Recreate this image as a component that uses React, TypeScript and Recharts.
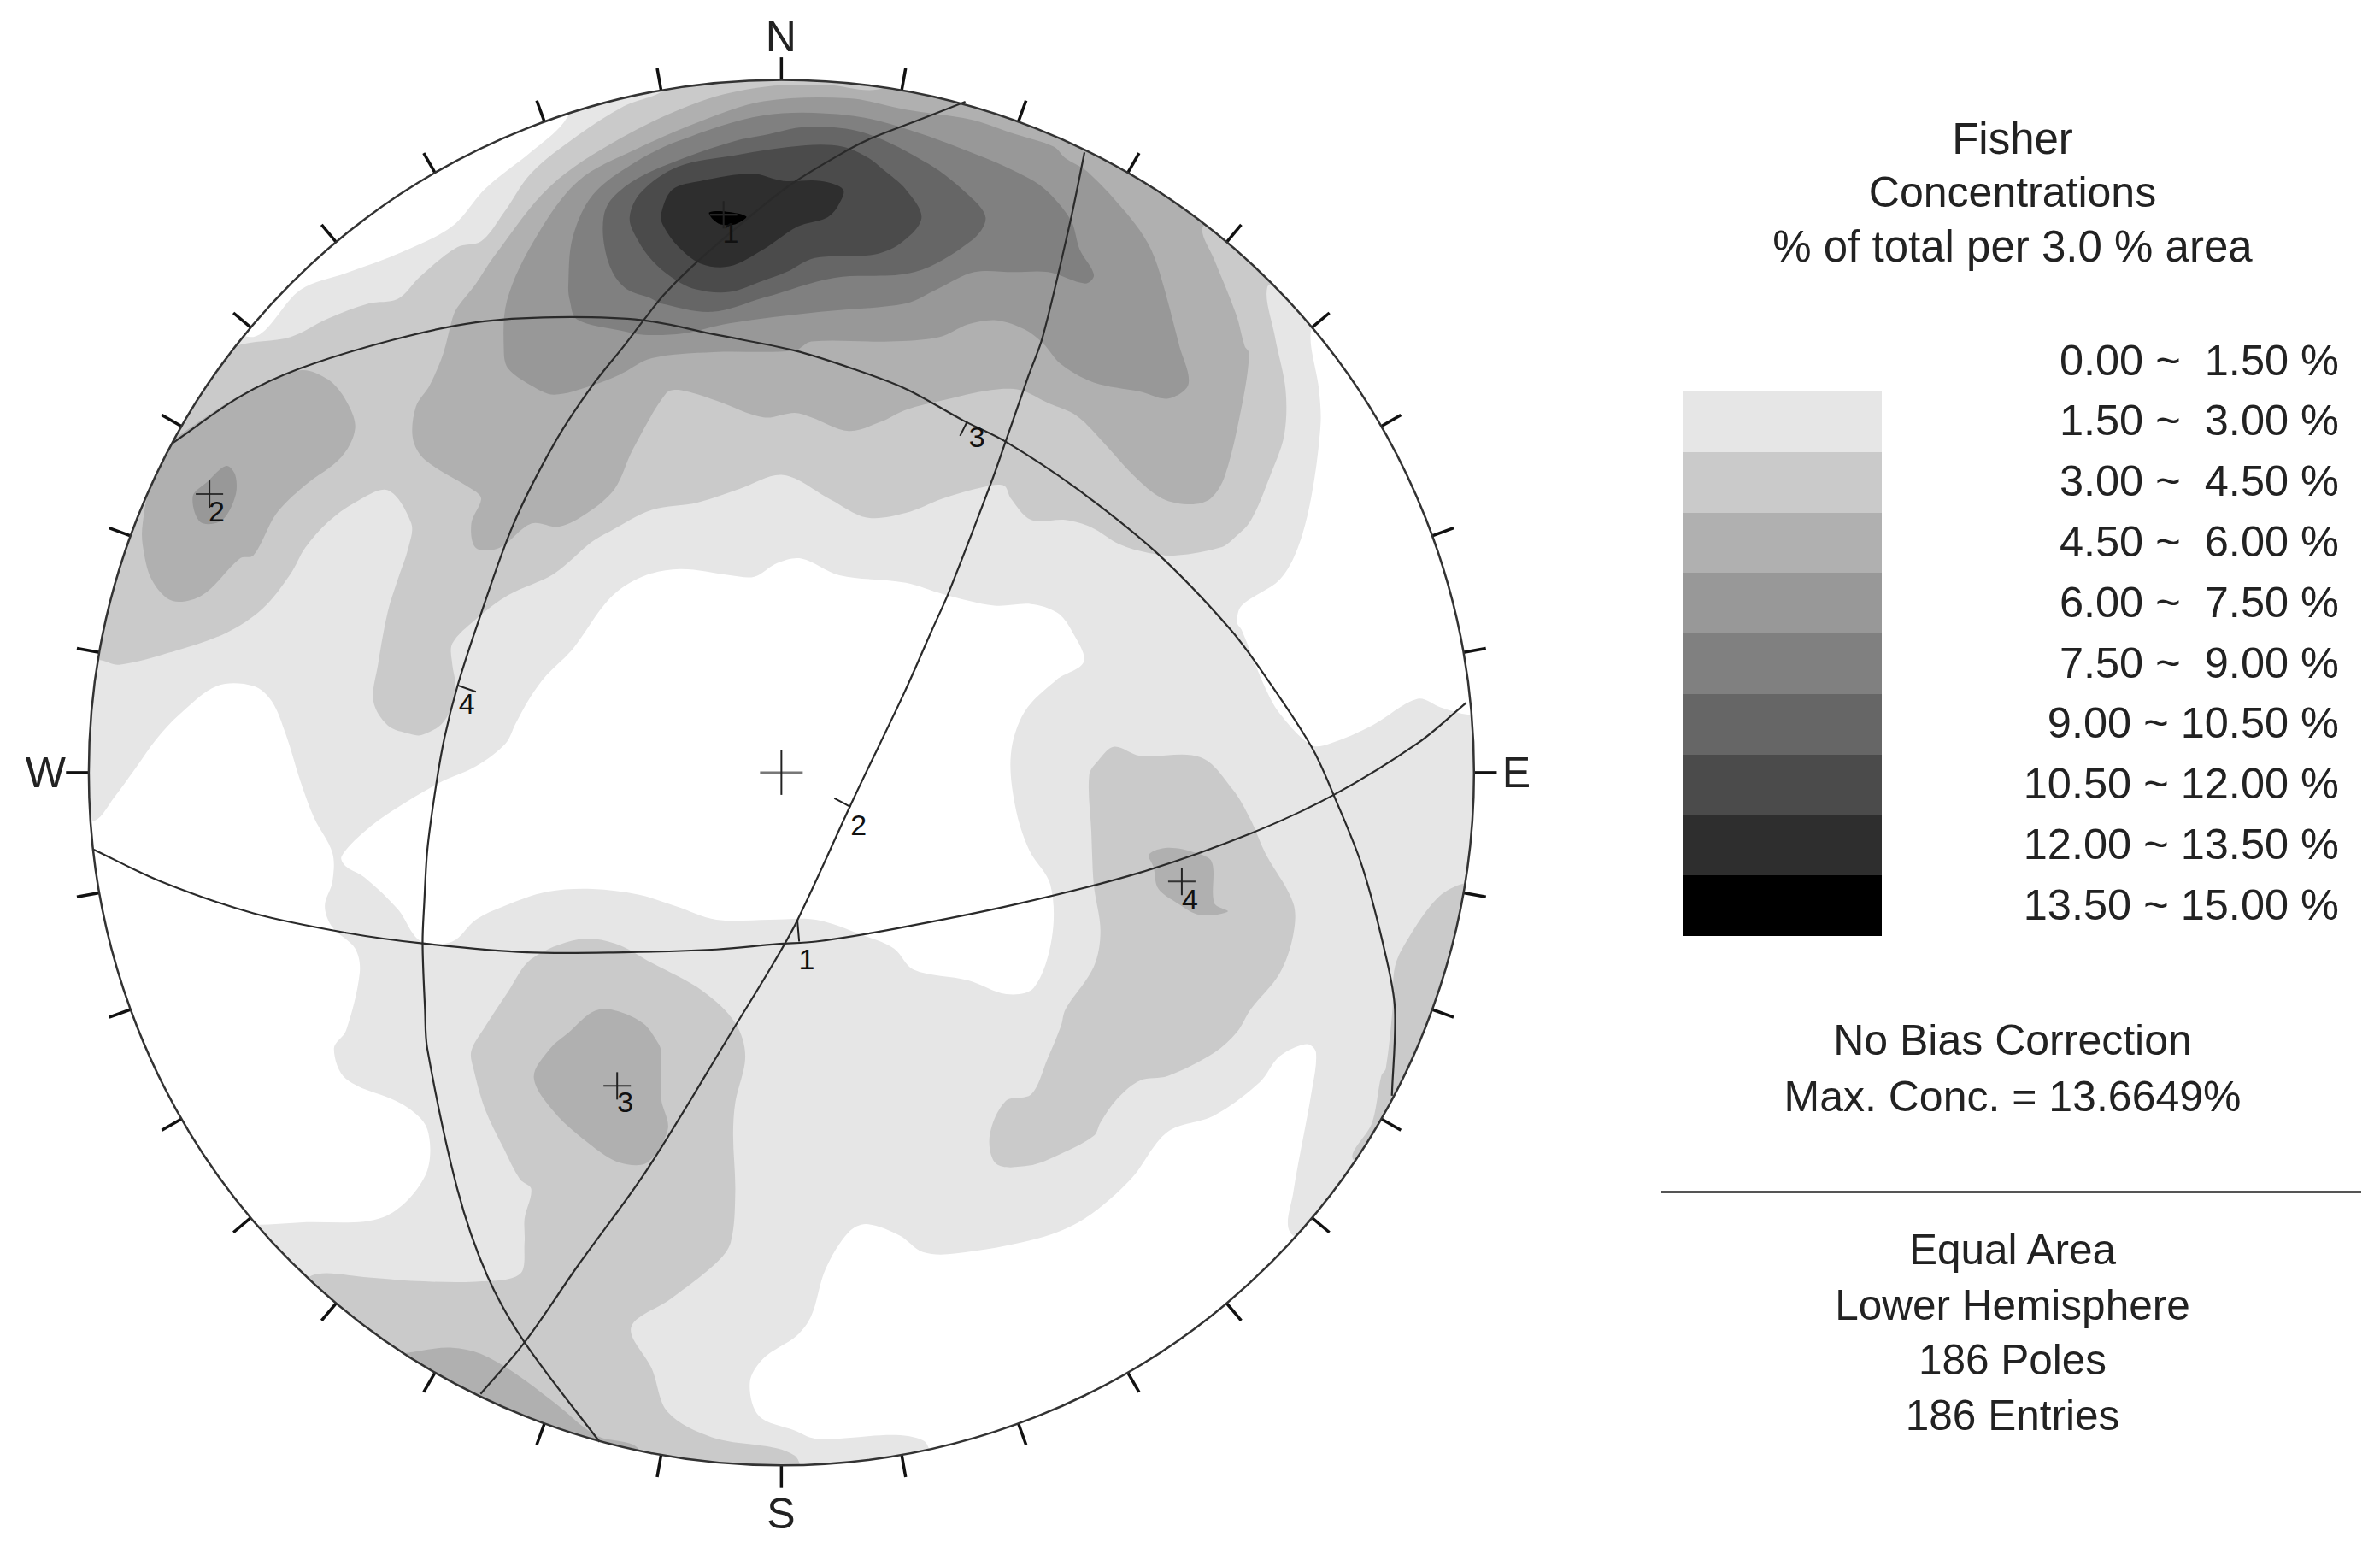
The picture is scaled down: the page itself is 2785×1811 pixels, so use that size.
import React from "react";
import {
  ScatterChart,
  Scatter,
  XAxis,
  YAxis,
  ReferenceLine,
  ReferenceDot,
} from "recharts";

type Pt = [number, number];

const WIDTH = 2785;
const HEIGHT = 1811;
const FONT = "'Liberation Sans', Arial, sans-serif";

// net coordinates: the plot is read in units of the 1568x1020 picture
const DOMAIN_X = 1568;
const DOMAIN_Y = 1020;
const NET_X = 514.8;
const NET_Y = 509.1;
const NET_R = 456.3;

const BAND_COLORS = ["#ffffff", "#e6e6e6", "#cacaca", "#b0b0b0", "#989898", "#808080", "#666666", "#4b4b4b", "#2e2e2e", "#000000"];

const legendLabels = [
  "0.00 ~  1.50 %",
  "1.50 ~  3.00 %",
  "3.00 ~  4.50 %",
  "4.50 ~  6.00 %",
  "6.00 ~  7.50 %",
  "7.50 ~  9.00 %",
  "9.00 ~ 10.50 %",
  "10.50 ~ 12.00 %",
  "12.00 ~ 13.50 %",
  "13.50 ~ 15.00 %",
];

const headerLines = ["Fisher", "Concentrations", "% of total per 3.0 % area"];
const biasLines = ["No Bias Correction", "Max. Conc. = 13.6649%"];
const infoLines = ["Equal Area", "Lower Hemisphere", "186 Poles", "186 Entries"];

const tickAzimuths = [0, 10, 20, 30, 40, 50, 60, 70, 80, 90, 100, 110, 120, 130, 140, 150, 160, 170, 180, 190, 200, 210, 220, 230, 240, 250, 260, 270, 280, 290, 300, 310, 320, 330, 340, 350];

const compass = [
  { name: "N", x: 514.5, y: 24 },
  { name: "E", x: 999, y: 509 },
  { name: "S", x: 514.5, y: 997 },
  { name: "W", x: 30, y: 509 },
];

// density bands, lightest first; each later one is painted on top
const disc: Pt[] = [[40, 40], [990, 40], [990, 985], [40, 985]];

const whiteNorthWest: Pt[] = [[371.5, 80.5], [350, 100], [320, 124], [298, 149], [265, 166], [228, 180], [198, 191], [167, 222], [140, 200], [240, 100], [380, 60]];
const whiteEast: Pt[] = [[864, 217], [869, 257], [870, 280], [864, 327], [855, 361], [843, 382], [818, 399], [815, 410], [818, 415], [833, 452], [843, 470], [864, 491], [876, 490], [904, 478], [934, 460.5], [949, 466], [968, 471], [1000, 472], [1000, 400], [960, 290], [880, 217]];
const whiteCentre: Pt[] = [[225, 564.4], [240, 548], [259, 534], [289, 516], [313.5, 505], [333, 490], [339.7, 476.8], [349, 460], [360, 445], [377, 428], [402, 394], [423, 380], [448, 375], [481, 379], [497, 380], [512, 371], [528, 368], [553, 379], [596.8, 384], [621.2, 391.4], [655, 399], [679.4, 398], [696.3, 403.6], [705.7, 414.9], [714, 436], [696, 448], [675, 469], [666, 497], [669, 532], [678, 560], [692, 583], [693, 618], [681, 651], [663, 655], [638, 646], [602, 639], [589, 625], [568, 616], [537.5, 606], [507, 606], [472, 606], [445, 597], [420.4, 589.4], [390.4, 585.7], [360.4, 587.6], [332.2, 597], [313.5, 606], [298, 620.4], [277, 620], [262, 599], [240, 578], [228, 571]];
const whiteWest: Pt[] = [[62, 541], [75.5, 525], [88, 508], [103, 487], [118, 471], [143, 452], [167, 452], [179, 462], [188, 483], [198, 515], [207, 539], [219, 562], [219, 581], [214, 597], [219, 611], [234, 625], [237, 641], [228, 679], [220, 691], [228, 711], [265, 727.6], [281.5, 744], [280, 775], [252.5, 802], [197.6, 805.5], [170, 807], [150, 807], [40, 620], [40, 541]];
const whiteSouthEast: Pt[] = [[850, 812], [852, 786], [864, 720], [867, 693.5], [861, 688], [843, 696], [830, 713], [800, 735], [769, 746], [745, 777], [714.5, 803], [684, 816], [629, 826], [608, 825], [592.5, 814], [571, 806.6], [559, 812], [544, 836], [534.5, 867], [525, 880], [503, 895], [494, 911], [500, 933], [523.5, 942.6], [537.5, 948], [608, 949], [620, 985], [760, 930], [880, 830]];

const band2North: Pt[] = [[50, 435], [60, 330], [110, 250], [155, 228], [191.5, 222], [216, 210], [243, 200], [262, 197], [277, 182], [301, 163], [317, 159], [332, 140], [350, 114], [381, 89], [411, 70], [439, 58], [439, 40], [600, 40], [720, 90], [835, 165], [850, 185], [835, 189], [840, 222], [847, 257], [846, 287], [837, 313], [824, 343], [812.6, 355], [805, 360.4], [775, 366], [756.3, 364.2], [737.6, 358.6], [718.8, 347.3], [702, 342.6], [679.4, 342.6], [666, 328.5], [661.5, 320], [647.5, 321], [621, 328.5], [596.8, 338], [571, 341], [547, 329], [516, 313], [487.5, 322], [460, 331], [429.5, 336], [402, 350], [390, 357], [365, 378], [335, 392], [313.5, 408], [298, 424], [298, 438], [300, 450], [298.4, 464], [291, 477], [278, 484.3], [270, 483.5], [255.5, 478], [246, 462], [249, 438], [255.5, 403], [262, 382], [269, 361], [271, 345], [255.5, 323], [234, 331], [216, 344], [201, 361], [191.5, 378], [173, 401], [149, 417], [115, 429], [78.5, 438], [66, 435]];
const band2South: Pt[] = [[350, 632], [381, 619], [405, 621.6], [429.5, 634.5], [463, 653], [484.4, 674], [491, 696], [484.4, 726.5], [483, 748], [484.4, 785.7], [481.4, 818.6], [472, 832], [441.7, 856], [415.8, 874.6], [429.5, 902], [440, 930.5], [469, 947], [523.5, 959], [523, 985], [400, 985], [280, 940], [200, 860], [205, 840.6], [243, 841.7], [271, 844], [313.5, 844.5], [342.5, 839.5], [345.6, 818.6], [345.6, 803], [350, 783.5], [342.5, 777], [332, 757], [319.6, 731], [312, 704.5], [310.5, 692.5], [319.6, 676.5], [335, 653]];
const band2East: Pt[] = [[734, 492], [751, 498], [791, 499], [812, 520], [824.4, 541], [833.5, 562], [852, 595], [852, 616], [843, 641.5], [824, 665], [815, 680], [800, 693.6], [769.4, 709], [751, 712], [736, 724], [725, 739.6], [720.6, 748.4], [696, 761.6], [678, 768], [656.5, 767], [652, 748.4], [662.6, 725.4], [679.4, 721], [690, 698], [699, 676], [702, 665], [720.6, 637], [725, 613.4], [720.6, 583], [719, 548], [717.6, 510.7], [723.7, 501]];
const band2Rim: Pt[] = [[961.7, 583], [946.4, 592.4], [928, 618], [919, 637], [917.4, 665], [913, 704], [910, 709], [904, 739.6], [891.5, 764], [930, 780], [990, 650], [985, 580]];

const band3North: Pt[] = [[301, 203], [313.5, 187], [324.7, 170], [362.2, 123], [409.1, 91], [461.7, 66.7], [503, 57.3], [545, 56], [578, 59], [640, 40], [720, 90], [800, 140], [792, 151], [799.5, 170], [814.5, 207.4], [820, 228], [823, 233], [818.3, 266.6], [807, 313.5], [797.6, 328.5], [784.5, 332.3], [765.7, 328.5], [747, 313.5], [728.2, 292.9], [709.4, 274], [690.6, 265.6], [672, 257], [653, 257], [621.2, 263.8], [596.8, 270], [580, 278], [559, 284], [534.5, 275], [523.5, 272], [503, 275], [472, 264], [448, 257], [439, 259], [417, 296], [405, 322], [387, 338], [368.5, 347], [350, 345], [329, 361], [313.5, 361], [310.5, 345], [317, 329], [313.5, 324], [280, 303], [272, 289], [274, 268], [283, 254], [292, 233], [298, 210]];
const band3West: Pt[] = [[118, 287], [161, 259], [197.6, 244], [216, 250], [228, 264], [234, 282], [225, 301], [200.6, 320], [182, 338.5], [167, 366], [158, 368], [133.5, 392], [113.7, 396], [100, 382], [94, 359], [94, 345], [100, 315], [112, 294]];
const band3SouthWest: Pt[] = [[277, 890], [298, 888], [316.6, 892], [338, 904], [365, 924], [393, 946], [420, 954], [420, 975], [300, 920], [260, 895]];
const band3Pole3: Pt[] = [[390, 667], [402, 665], [423.4, 674], [434, 688], [435.6, 693.6], [435.6, 724], [440, 744], [426.5, 766], [408, 766], [390, 755], [365.4, 733], [351.7, 710], [362.4, 691], [374.6, 680.4]];
const band3Pole4: Pt[] = [[757, 563], [769.4, 558.6], [788, 562], [798.4, 568], [800, 595], [809, 600.6], [790.8, 603], [775.5, 595], [763, 585.4], [760, 571.4]];

const band4North: Pt[] = [[332, 233], [335, 243], [350, 254], [365, 260], [390, 254], [408, 247], [429.5, 236], [470, 232], [523.5, 231], [534.5, 225], [586, 225], [619, 222], [638, 213.6], [656.5, 211], [675, 217], [687, 226], [699, 240], [720.6, 252], [751, 258], [769.5, 262.6], [783, 253], [777, 228], [763.9, 179.3], [756.4, 160.5], [743.2, 141.7], [717, 113.6], [701.9, 104.2], [694.4, 96.7], [668.1, 88.2], [640, 78.9], [596.8, 72.3], [559.3, 64.8], [503, 66.7], [461.7, 79.8], [418.5, 98.6], [381, 119.2], [352.8, 156.8], [334, 198]];
const band4Pole2: Pt[] = [[149, 307], [155, 313], [155, 327], [146, 343], [132, 344], [127, 327], [136.5, 317.5]];

const band5North: Pt[] = [[374.4, 188.7], [375.4, 198], [380, 210.3], [409.1, 217.8], [424.2, 220.6], [450.4, 219.6], [480.5, 213], [540.5, 205.5], [596.8, 199.9], [617.5, 190.5], [641.9, 179.3], [668.1, 179.3], [690.7, 179.3], [715, 186.8], [720.7, 181.2], [711.3, 164.3], [705.7, 145.5], [690.7, 126.7], [677.5, 117.3], [649.4, 104.2], [598.7, 85.4], [559.3, 76], [503, 76], [446.7, 93], [416.7, 108], [390.4, 128.6], [377.2, 156.8]];
const band6North: Pt[] = [[397.9, 160.5], [397.9, 141.7], [403.5, 130.5], [420.4, 117.3], [450.4, 104.2], [484.2, 92.9], [503, 89.2], [531.1, 83.6], [568.7, 87.3], [611.8, 108], [638.1, 128.6], [649.4, 143.6], [640, 158.6], [602.5, 179.3], [549.9, 183], [503, 196.2], [469.2, 205.5], [435.4, 199.9], [427.9, 196.2], [412.9, 190.5], [403.5, 179.3]];
const band7North: Pt[] = [[414.8, 143.6], [422.3, 126.7], [446.7, 109.8], [484.2, 102.3], [531, 95.8], [555.5, 96.7], [572.4, 104.2], [581.8, 111.7], [596.8, 124.9], [607.1, 143.6], [593, 160.5], [574.3, 168], [536.8, 169.9], [518, 179.3], [503, 184.9], [480.5, 192.4], [458, 190.5], [443, 183], [429.8, 171.8], [420.4, 158.6]];
const band8North: Pt[] = [[435.4, 141.7], [443, 124.9], [461.7, 119.2], [495.5, 114.5], [516, 119.2], [540.5, 119.2], [555.5, 124.9], [551.8, 136.1], [544.3, 143.6], [525.5, 149.3], [503, 164.3], [480.5, 175.5], [461.7, 173.7], [446.7, 162.4], [437.3, 149.3]];
const band9Peak: Pt[] = [[467.3, 140], [478.6, 139.5], [491.7, 142.7], [484.2, 147.8], [474.8, 147.8], [469.2, 144]];

const bands: { level: number; points: Pt[] }[] = [
  { level: 1, points: disc },
  { level: 0, points: whiteNorthWest },
  { level: 0, points: whiteEast },
  { level: 0, points: whiteCentre },
  { level: 0, points: whiteWest },
  { level: 0, points: whiteSouthEast },
  { level: 2, points: band2North },
  { level: 2, points: band2South },
  { level: 2, points: band2East },
  { level: 2, points: band2Rim },
  { level: 3, points: band3North },
  { level: 3, points: band3West },
  { level: 3, points: band3SouthWest },
  { level: 3, points: band3Pole3 },
  { level: 3, points: band3Pole4 },
  { level: 4, points: band4North },
  { level: 4, points: band4Pole2 },
  { level: 5, points: band5North },
  { level: 6, points: band6North },
  { level: 7, points: band7North },
  { level: 8, points: band8North },
  { level: 9, points: band9Peak },
];

// great circles of the four mean planes
const planeOne: Pt[] = [[636, 67], [608, 78], [574.3, 91], [559, 98.6], [521.8, 121], [491.7, 144.6], [456, 175.5], [437.3, 194.3], [424, 211], [411, 228], [390, 254.4], [365.4, 291.8], [338, 346], [315, 410], [301.3, 452.4], [292.8, 486.2], [287.2, 518], [281.6, 559.4], [279.5, 595], [278.4, 621.6], [280, 665], [281.5, 691], [301.3, 783.5], [321, 840.6], [345.6, 884.5], [395, 950]];
const planeTwo: Pt[] = [[714.5, 100.4], [705.4, 144.7], [687, 221.8], [677.5, 247.8], [662.5, 291], [653, 318], [625, 390.5], [613.7, 415.8], [595.5, 457], [562, 527], [525.3, 606.4], [507, 639], [484.4, 676], [426.5, 770.4], [380.7, 834], [345.6, 884.5], [316.6, 918.5]];
const planeThree: Pt[] = [[113.7, 292], [158, 261.4], [197.6, 242.8], [258.6, 224], [313.5, 212.4], [365.4, 209], [423.4, 211], [472, 220.6], [523.5, 231], [562, 243], [596.8, 256.2], [634.3, 276.9], [662.5, 291], [709.4, 322], [762, 364.2], [810.8, 414.9], [835, 447.7], [864, 492], [879, 524.7], [897.6, 571.4], [913, 629.8], [919, 665], [917, 722]];
const planeFour: Pt[] = [[61.8, 559.8], [106, 580.8], [167, 601.8], [228, 614.6], [278.4, 621.6], [347, 627.5], [411, 627.5], [472, 625.6], [512, 622], [537.5, 620.4], [589.4, 612], [668.7, 596], [751, 575], [824.4, 549], [879, 523.6], [934, 489.7], [966, 463]];
const planes = [planeOne, planeTwo, planeThree, planeFour];

const poles = [
  { name: "1", x: 476.7, y: 141.5, labelX: 481.4, labelY: 153 },
  { name: "2", x: 138, y: 325.6, labelX: 142.7, labelY: 337 },
  { name: "3", x: 406.6, y: 715.5, labelX: 412, labelY: 726 },
  { name: "4", x: 778.6, y: 580.8, labelX: 784, labelY: 592.4 },
];

const planeMarks = [
  { name: "1", x: 531.4, y: 632, from: [525.3, 606.4] as Pt, to: [526.5, 620.4] as Pt },
  { name: "2", x: 565.6, y: 543.4, from: [549.7, 526] as Pt, to: [560.4, 531.7] as Pt },
  { name: "3", x: 643.7, y: 288, from: [632.5, 287.2] as Pt, to: [637.2, 277.8] as Pt },
  { name: "4", x: 307.5, y: 463.7, from: [301.3, 451.5] as Pt, to: [313.5, 455.8] as Pt },
];

const toData = (points: Pt[]) => points.map(([x, y]) => ({ x, y }));

// Catmull-Rom through the traced vertices, tangents scaled by chord length
function smoothPath(points: { x: number; y: number }[], closed: boolean) {
  const n = points.length;
  const at = (i: number) => (closed ? points[(i + n) % n] : points[Math.max(0, Math.min(n - 1, i))]);
  const dist = (a: { x: number; y: number }, b: { x: number; y: number }) => Math.hypot(a.x - b.x, a.y - b.y) || 1;
  let d = `M${points[0].x},${points[0].y}`;
  const last = closed ? n : n - 1;
  for (let i = 0; i < last; i++) {
    const p0 = at(i - 1);
    const p1 = at(i);
    const p2 = at(i + 1);
    const p3 = at(i + 2);
    const len = dist(p1, p2);
    const k1 = len / (3 * (dist(p0, p1) + len));
    const k2 = len / (3 * (len + dist(p2, p3)));
    const c1x = p1.x + (p2.x - p0.x) * k1;
    const c1y = p1.y + (p2.y - p0.y) * k1;
    const c2x = p2.x - (p3.x - p1.x) * k2;
    const c2y = p2.y - (p3.y - p1.y) * k2;
    d += `C${c1x},${c1y} ${c2x},${c2y} ${p2.x},${p2.y}`;
  }
  return closed ? d + "Z" : d;
}

const noMarker = () => <g />;

function crossShape(halfW: number, halfH: number, hColor: string, hWidth: number, vColor: string) {
  return (props: any) => (
    <g>
      <line x1={props.cx - halfW} x2={props.cx + halfW} y1={props.cy} y2={props.cy} stroke={hColor} strokeWidth={hWidth} />
      <line x1={props.cx} x2={props.cx} y1={props.cy - halfH} y2={props.cy + halfH} stroke={vColor} strokeWidth={2} />
    </g>
  );
}

function PanelText({ text, y, size = 50 }: { text: string; y: number; size?: number }) {
  return (
    <div style={{ position: "absolute", left: 2355, top: y, transform: "translate(-50%, -50%)", whiteSpace: "pre", fontSize: size, lineHeight: 1, color: "#222" }}>
      {text}
    </div>
  );
}

export default function App() {
  const sx = WIDTH / DOMAIN_X;
  const sy = HEIGHT / DOMAIN_Y;
  const xAt = (a: number, r: number) => NET_X + r * Math.sin((a * Math.PI) / 180);
  const yAt = (a: number, r: number) => NET_Y - r * Math.cos((a * Math.PI) / 180);

  return (
    <div style={{ position: "absolute", left: 0, top: 0, width: WIDTH, height: HEIGHT, background: "#fff", fontFamily: FONT }}>
      <ScatterChart width={WIDTH} height={HEIGHT} margin={{ top: 0, right: 0, bottom: 0, left: 0 }}>
        <defs>
          <clipPath id="net-clip">
            <circle cx={NET_X * sx} cy={NET_Y * sy} r={NET_R * sx} />
          </clipPath>
        </defs>
        <XAxis type="number" dataKey="x" domain={[0, DOMAIN_X]} hide allowDataOverflow />
        <YAxis type="number" dataKey="y" domain={[0, DOMAIN_Y]} reversed hide allowDataOverflow />

        {bands.map((band, i) => (
          <Scatter
            key={`band-${i}`}
            data={toData(band.points)}
            isAnimationActive={false}
            shape={noMarker}
            line={(p: any) => (
              <path d={smoothPath(p.points, true)} fill={BAND_COLORS[band.level]} stroke="none" clipPath="url(#net-clip)" />
            )}
          />
        ))}

        {planes.map((plane, i) => (
          <Scatter
            key={`plane-${i}`}
            data={toData(plane)}
            isAnimationActive={false}
            shape={noMarker}
            line={(p: any) => <path d={smoothPath(p.points, false)} fill="none" stroke="#2a2a2a" strokeWidth={2.2} />}
          />
        ))}

        {planeMarks.map((m) => (
          <Scatter
            key={`mark-${m.name}`}
            data={toData([m.from, m.to])}
            isAnimationActive={false}
            shape={noMarker}
            line={(p: any) => <path d={smoothPath(p.points, false)} fill="none" stroke="#222" strokeWidth={2} />}
          />
        ))}

        <ReferenceDot x={NET_X} y={NET_Y} r={NET_R * sx} fill="none" stroke="#333" strokeWidth={2.5} ifOverflow="visible" />

        {tickAzimuths.map((a) => (
          <ReferenceLine
            key={`tick-${a}`}
            segment={[
              { x: xAt(a, NET_R), y: yAt(a, NET_R) },
              { x: xAt(a, NET_R + 15), y: yAt(a, NET_R + 15) },
            ]}
            stroke="#111"
            strokeWidth={3.5}
          />
        ))}

        <Scatter data={[{ x: NET_X, y: NET_Y }]} isAnimationActive={false} shape={crossShape(25, 26, "#777", 3, "#222")} />
        <Scatter data={poles} isAnimationActive={false} shape={crossShape(16, 16, "#333", 2, "#222")} />

        {poles.map((m) => (
          <ReferenceDot key={`pole-${m.name}`} x={m.labelX} y={m.labelY} r={0} fill="none" stroke="none" label={{ value: m.name, position: "center", fontSize: 34, fill: "#111", fontFamily: FONT }} />
        ))}
        {planeMarks.map((m) => (
          <ReferenceDot key={`plane-label-${m.name}`} x={m.x} y={m.y} r={0} fill="none" stroke="none" label={{ value: m.name, position: "center", fontSize: 34, fill: "#111", fontFamily: FONT }} />
        ))}
        {compass.map((c) => (
          <ReferenceDot key={c.name} x={c.x} y={c.y} r={0} fill="none" stroke="none" label={{ value: c.name, position: "center", fontSize: 50, fill: "#222", fontFamily: FONT }} />
        ))}
      </ScatterChart>

      {headerLines.map((t, i) => (
        <PanelText key={t} text={t} y={162 + i * 63} size={i === 1 ? 50 : 51} />
      ))}
      {legendLabels.map((t, i) => (
        <div key={t} style={{ position: "absolute", right: 48, top: 421.5 + i * 70.8, transform: "translateY(-50%)", whiteSpace: "pre", fontSize: 50.5, lineHeight: 1, color: "#222" }}>
          {t}
        </div>
      ))}
      {BAND_COLORS.slice(1).map((c, i) => (
        <div key={c} style={{ position: "absolute", left: 1969, top: 458 + i * 70.8, width: 233, height: 70.8, background: c }} />
      ))}
      {biasLines.map((t, i) => (
        <PanelText key={t} text={t} y={1217 + i * 66} />
      ))}
      <div style={{ position: "absolute", left: 1944, top: 1393, width: 819, height: 3, background: "#555" }} />
      {infoLines.map((t, i) => (
        <PanelText key={t} text={t} y={1462 + i * 64.5} size={49.5} />
      ))}
    </div>
  );
}
